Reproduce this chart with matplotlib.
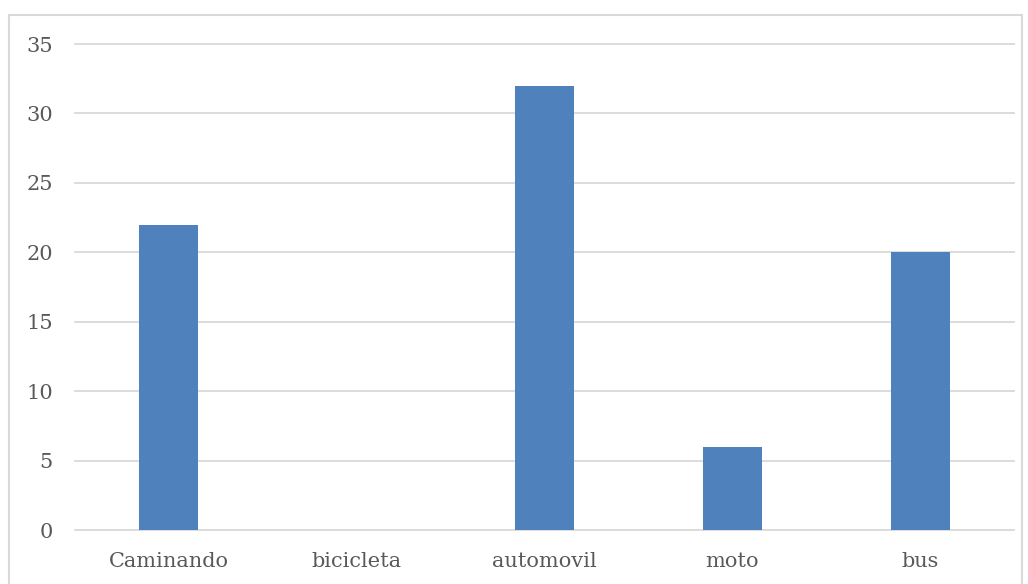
import matplotlib
matplotlib.use("Agg")
import matplotlib.pyplot as plt
from matplotlib.patches import Rectangle

categories = ["Caminando", "bicicleta", "automovil", "moto", "bus"]
values = [22, 0, 32, 6, 20]
yticks = [0, 5, 10, 15, 20, 25, 30, 35]

W, H = 1028, 584
fig = plt.figure(figsize=(W / 100, H / 100), dpi=100)
fig.patch.set_facecolor("white")

# outer chart border
fig.add_artist(Rectangle((9 / W, -0.05), (1022 - 9) / W, 1.05 - 15 / H,
                         transform=fig.transFigure, fill=False,
                         edgecolor="#D9D9D9", linewidth=1.5))

ax = fig.add_axes([75 / W, 1 - 530 / H, (1014 - 75) / W, (530 - 44) / H])
x = list(range(len(categories)))
ax.bar(x, values, width=0.315, color="#4F81BD", zorder=3)
ax.set_xlim(-0.5, len(categories) - 0.5)
ax.set_ylim(0, 35)
ax.set_yticks(yticks)
ax.set_xticks(x)
ax.set_xticklabels(categories)
ax.yaxis.grid(True, color="#D9D9D9", linewidth=1.3, zorder=0)
for gl in ax.get_ygridlines():
    gl.set_clip_on(False)
ax.set_axisbelow(True)
for s in ax.spines.values():
    s.set_visible(False)
ax.tick_params(axis="both", length=0, labelsize=15, colors="#595959")
ax.tick_params(axis="y", pad=16)
ax.tick_params(axis="x", pad=16)
for lab in ax.get_xticklabels() + ax.get_yticklabels():
    lab.set_family("DejaVu Serif")

fig.savefig("out.png", dpi=100, facecolor="white")
